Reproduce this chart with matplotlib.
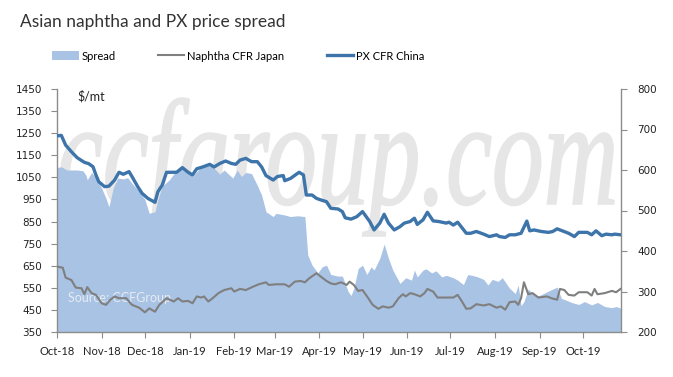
import matplotlib
matplotlib.use("Agg")
import matplotlib.pyplot as plt
import matplotlib.dates as mdates
import pandas as pd
from matplotlib.textpath import TextPath
from matplotlib.patches import PathPatch
from matplotlib.font_manager import FontProperties
from matplotlib.transforms import Affine2D, IdentityTransform

# PX CFR China, $/mt (left axis)
px_dates = ["2018-10-01", "2018-10-04", "2018-10-07", "2018-10-11", "2018-10-15", "2018-10-20",
            "2018-10-23", "2018-10-26", "2018-10-28", "2018-10-30", "2018-11-03", "2018-11-06",
            "2018-11-10", "2018-11-13", "2018-11-16", "2018-11-20", "2018-11-22", "2018-11-26",
            "2018-11-29", "2018-12-03", "2018-12-08", "2018-12-10", "2018-12-13", "2018-12-16",
            "2018-12-23", "2018-12-27", "2018-12-31", "2019-01-03", "2019-01-06", "2019-01-10",
            "2019-01-15", "2019-01-18", "2019-01-22", "2019-01-26", "2019-01-30", "2019-02-02",
            "2019-02-05", "2019-02-09", "2019-02-13", "2019-02-17", "2019-02-20", "2019-02-23",
            "2019-02-28", "2019-03-03", "2019-03-07", "2019-03-08", "2019-03-12", "2019-03-18",
            "2019-03-21", "2019-03-23", "2019-03-27", "2019-03-30", "2019-04-02", "2019-04-06",
            "2019-04-09", "2019-04-14", "2019-04-17", "2019-04-19", "2019-04-23", "2019-04-27",
            "2019-05-01", "2019-05-06", "2019-05-09", "2019-05-13", "2019-05-16", "2019-05-19",
            "2019-05-23", "2019-05-27", "2019-05-30", "2019-06-03", "2019-06-06", "2019-06-08",
            "2019-06-12", "2019-06-15", "2019-06-19", "2019-06-23", "2019-06-28", "2019-06-30",
            "2019-07-03", "2019-07-06", "2019-07-09", "2019-07-12", "2019-07-15", "2019-07-19",
            "2019-07-24", "2019-07-28", "2019-08-02", "2019-08-04", "2019-08-08", "2019-08-11",
            "2019-08-15", "2019-08-19", "2019-08-23", "2019-08-25", "2019-08-28", "2019-09-02",
            "2019-09-07", "2019-09-10", "2019-09-13", "2019-09-21", "2019-09-25", "2019-09-28",
            "2019-10-04", "2019-10-07", "2019-10-10", "2019-10-14", "2019-10-17", "2019-10-21",
            "2019-10-23", "2019-10-27"]
px = [1238, 1240, 1196, 1166, 1139, 1118, 1112, 1098, 1061, 1030, 1008, 1010,
      1038, 1073, 1064, 1076, 1054, 1008, 978, 955, 937, 985, 1015, 1073,
      1073, 1094, 1073, 1061, 1089, 1097, 1109, 1097, 1113, 1124, 1113, 1109,
      1128, 1136, 1121, 1121, 1097, 1058, 1038, 1054, 1058, 1035, 1045, 1073,
      1061, 970, 970, 955, 948, 940, 910, 907, 895, 867, 861, 872,
      895, 850, 812, 843, 883, 843, 812, 827, 843, 850, 865, 837,
      858, 892, 853, 850, 843, 847, 834, 847, 822, 797, 797, 805,
      793, 782, 790, 782, 778, 790, 790, 797, 852, 808, 812, 805,
      801, 805, 817, 797, 782, 801, 801, 790, 808, 786, 793, 790,
      793, 790]

# Naphtha CFR Japan, $/mt (left axis)
nap_dates = ["2018-10-01", "2018-10-05", "2018-10-07", "2018-10-11", "2018-10-14", "2018-10-18",
             "2018-10-20", "2018-10-22", "2018-10-25", "2018-10-28", "2018-11-01", "2018-11-04",
             "2018-11-07", "2018-11-10", "2018-11-13", "2018-11-18", "2018-11-22", "2018-11-27",
             "2018-12-01", "2018-12-04", "2018-12-08", "2018-12-11", "2018-12-16", "2018-12-21",
             "2018-12-24", "2018-12-27", "2018-12-31", "2019-01-03", "2019-01-06", "2019-01-09",
             "2019-01-11", "2019-01-14", "2019-01-17", "2019-01-21", "2019-01-25", "2019-01-30",
             "2019-02-01", "2019-02-05", "2019-02-09", "2019-02-14", "2019-02-18", "2019-02-23",
             "2019-02-25", "2019-03-02", "2019-03-08", "2019-03-11", "2019-03-15", "2019-03-19",
             "2019-03-22", "2019-03-25", "2019-03-30", "2019-04-02", "2019-04-06", "2019-04-09",
             "2019-04-12", "2019-04-16", "2019-04-20", "2019-04-22", "2019-04-25", "2019-04-28",
             "2019-05-01", "2019-05-05", "2019-05-08", "2019-05-12", "2019-05-15", "2019-05-19",
             "2019-05-22", "2019-05-26", "2019-05-29", "2019-05-31", "2019-06-03", "2019-06-06",
             "2019-06-10", "2019-06-13", "2019-06-15", "2019-06-19", "2019-06-22", "2019-06-27",
             "2019-07-03", "2019-07-06", "2019-07-09", "2019-07-12", "2019-07-15", "2019-07-19",
             "2019-07-24", "2019-07-28", "2019-08-02", "2019-08-05", "2019-08-08", "2019-08-11",
             "2019-08-15", "2019-08-17", "2019-08-19", "2019-08-21", "2019-08-24", "2019-08-27",
             "2019-08-31", "2019-09-06", "2019-09-09", "2019-09-13", "2019-09-15", "2019-09-18",
             "2019-09-21", "2019-09-25", "2019-09-28", "2019-10-04", "2019-10-07", "2019-10-09",
             "2019-10-11", "2019-10-16", "2019-10-21", "2019-10-24", "2019-10-27"]
naphtha = [646, 641, 596, 585, 551, 548, 521, 553, 526, 518, 480, 473,
           496, 511, 503, 503, 473, 460, 439, 457, 442, 473, 503, 488,
           503, 488, 491, 480, 511, 506, 511, 488, 503, 526, 540, 548,
           533, 545, 540, 555, 566, 575, 563, 566, 566, 555, 578, 581,
           575, 593, 616, 601, 581, 570, 566, 575, 563, 578, 563, 536,
           540, 503, 473, 455, 466, 460, 466, 503, 521, 511, 526, 521,
           511, 526, 545, 533, 506, 506, 506, 518, 488, 455, 457, 476,
           470, 476, 460, 466, 451, 485, 488, 473, 503, 575, 521, 526,
           506, 511, 503, 496, 545, 540, 518, 515, 530, 530, 515, 545,
           521, 526, 536, 530, 545]

# PX - naphtha spread, $/mt (right axis)
spr_dates = ["2018-10-01", "2018-10-04", "2018-10-08", "2018-10-15", "2018-10-19", "2018-10-21",
             "2018-10-22", "2018-10-25", "2018-10-28", "2018-11-01", "2018-11-04", "2018-11-06",
             "2018-11-09", "2018-11-12", "2018-11-16", "2018-11-19", "2018-11-22", "2018-11-27",
             "2018-12-01", "2018-12-04", "2018-12-08", "2018-12-10", "2018-12-13", "2018-12-18",
             "2018-12-23", "2018-12-26", "2018-12-31", "2019-01-03", "2019-01-08", "2019-01-12",
             "2019-01-17", "2019-01-22", "2019-01-25", "2019-01-31", "2019-02-03", "2019-02-06",
             "2019-02-09", "2019-02-13", "2019-02-17", "2019-02-20", "2019-02-23", "2019-02-28",
             "2019-03-02", "2019-03-08", "2019-03-12", "2019-03-17", "2019-03-22", "2019-03-24",
             "2019-03-27", "2019-03-31", "2019-04-03", "2019-04-06", "2019-04-09", "2019-04-14",
             "2019-04-17", "2019-04-21", "2019-04-23", "2019-04-25", "2019-04-28", "2019-05-01",
             "2019-05-04", "2019-05-07", "2019-05-09", "2019-05-13", "2019-05-16", "2019-05-19",
             "2019-05-22", "2019-05-27", "2019-05-31", "2019-06-04", "2019-06-06", "2019-06-08",
             "2019-06-12", "2019-06-14", "2019-06-18", "2019-06-21", "2019-06-25", "2019-06-28",
             "2019-07-03", "2019-07-06", "2019-07-10", "2019-07-13", "2019-07-17", "2019-07-20",
             "2019-07-24", "2019-07-27", "2019-07-30", "2019-08-03", "2019-08-06", "2019-08-11",
             "2019-08-15", "2019-08-17", "2019-08-19", "2019-08-21", "2019-08-24", "2019-08-27",
             "2019-08-31", "2019-09-13", "2019-09-16", "2019-09-19", "2019-09-23", "2019-09-28",
             "2019-10-02", "2019-10-07", "2019-10-11", "2019-10-16", "2019-10-21", "2019-10-24",
             "2019-10-27"]
spread = [606, 608, 600, 600, 598, 588, 576, 594, 580, 555, 530, 509,
          555, 580, 578, 581, 567, 547, 527, 493, 497, 527, 560, 576,
          600, 608, 596, 584, 604, 614, 608, 590, 600, 580, 600, 584,
          594, 591, 562, 538, 497, 485, 493, 489, 485, 487, 485, 390,
          365, 346, 361, 365, 342, 338, 338, 300, 290, 308, 357, 365,
          342, 361, 353, 382, 417, 382, 353, 320, 334, 328, 353, 336,
          353, 356, 346, 351, 336, 340, 334, 328, 317, 342, 339, 336,
          330, 316, 330, 325, 334, 308, 295, 316, 265, 275, 306, 295,
          289, 311, 283, 279, 273, 268, 275, 267, 273, 263, 260, 263,
          259]

left_ticks = [350, 450, 550, 650, 750, 850, 950, 1050, 1150, 1250, 1350, 1450]
right_ticks = [200, 300, 400, 500, 600, 700, 800]

px_dates = pd.to_datetime(px_dates)
nap_dates = pd.to_datetime(nap_dates)
spr_dates = pd.to_datetime(spr_dates)

W, H = 673, 377
fig = plt.figure(figsize=(W / 100, H / 100), dpi=100, facecolor="white")

ax = fig.add_axes([57 / W, 1 - 332 / H, (620.5 - 57) / W, (332 - 89) / H])
ax2 = ax.twinx()
ax.set_zorder(ax2.get_zorder() + 1)
ax.patch.set_visible(False)
ax2.patch.set_visible(False)

# watermark, stretched into its box behind the plot
tp = TextPath((0, 0), "ccfgroup.com", size=100,
              prop=FontProperties(family="Liberation Serif", style="italic"))
ext = tp.get_extents()
x0, x1, ytop, ybot = 60, 614, 98, 236
tr = (Affine2D().translate(-ext.x0, -ext.y0)
      .scale((x1 - x0) / ext.width, (ybot - ytop) / ext.height)
      .translate(x0, H - ybot))
wm = PathPatch(tr.transform_path(tp), facecolor="#e6e6e6", edgecolor="#e6e6e6", lw=1.2,
               transform=IdentityTransform(), zorder=-5)
fig.patches.append(wm)

spread_col = "#a9c3e4"
px_col = "#3d74aa"
nap_col = "#7f7f7f"
axis_col = "#8c8c8c"

ax2.fill_between(spr_dates, 200, spread, color=spread_col, lw=0, label="Spread")
ax.plot(nap_dates, naphtha, color=nap_col, lw=1.5, label="Naphtha CFR Japan", zorder=3)
ax.plot(px_dates, px, color=px_col, lw=2.4, label="PX CFR China", zorder=4)

xmin, xmax = pd.Timestamp("2018-10-01"), pd.Timestamp("2019-10-27")
ax.set_xlim(xmin, xmax)
ax.set_ylim(350, 1450)
ax2.set_ylim(200, 800)
ax.set_yticks(left_ticks)
ax2.set_yticks(right_ticks)
ax.xaxis.set_major_locator(mdates.MonthLocator())
ax.xaxis.set_major_formatter(mdates.DateFormatter("%b-%y"))

for a in (ax, ax2):
    a.spines["top"].set_visible(False)
    for s in ("left", "right", "bottom"):
        a.spines[s].set_color(axis_col)
        a.spines[s].set_linewidth(1.0)
ax.spines["right"].set_visible(False)
ax2.spines["left"].set_visible(False)
ax2.spines["bottom"].set_visible(False)

ax.tick_params(axis="y", direction="out", length=4, color=axis_col, pad=7, labelsize=7.5,
               labelcolor="#222222")
ax2.tick_params(axis="y", direction="out", length=4, color=axis_col, pad=8, labelsize=7.5,
                labelcolor="#222222")
ax.tick_params(axis="x", direction="out", length=4, color=axis_col, pad=6)
for lab in ax.get_xticklabels():
    lab.set_fontfamily("Lato")
    lab.set_fontsize(8)
    lab.set_color("#222222")

ax.text(0.036, 0.971, "$/mt", transform=ax.transAxes, fontsize=9, family="Lato",
        va="center", ha="left", color="#222222")
ax.text(0.019, 0.14, "Source: CCFGroup", transform=ax.transAxes, fontsize=9, family="Lato",
        va="center", ha="left", color="#e6ebf2", zorder=2)

fig.text(20.5 / W, 1 - 22 / H, "Asian naphtha and PX price spread", fontsize=12.5,
         family="Lato", va="center", ha="left", color="#333333")

h1, l1 = ax2.get_legend_handles_labels()
h2, l2 = ax.get_legend_handles_labels()
fig.legend(h1 + h2, l1 + l2, ncol=3, loc="center left",
           bbox_to_anchor=(52 / W, 1 - 56 / H), frameon=False,
           prop={"family": "Lato", "size": 8}, handlelength=2.4, handleheight=0.9,
           handletextpad=0.25, columnspacing=3.8, borderaxespad=0, borderpad=0)

fig.savefig("out.png", dpi=100, facecolor="white")
